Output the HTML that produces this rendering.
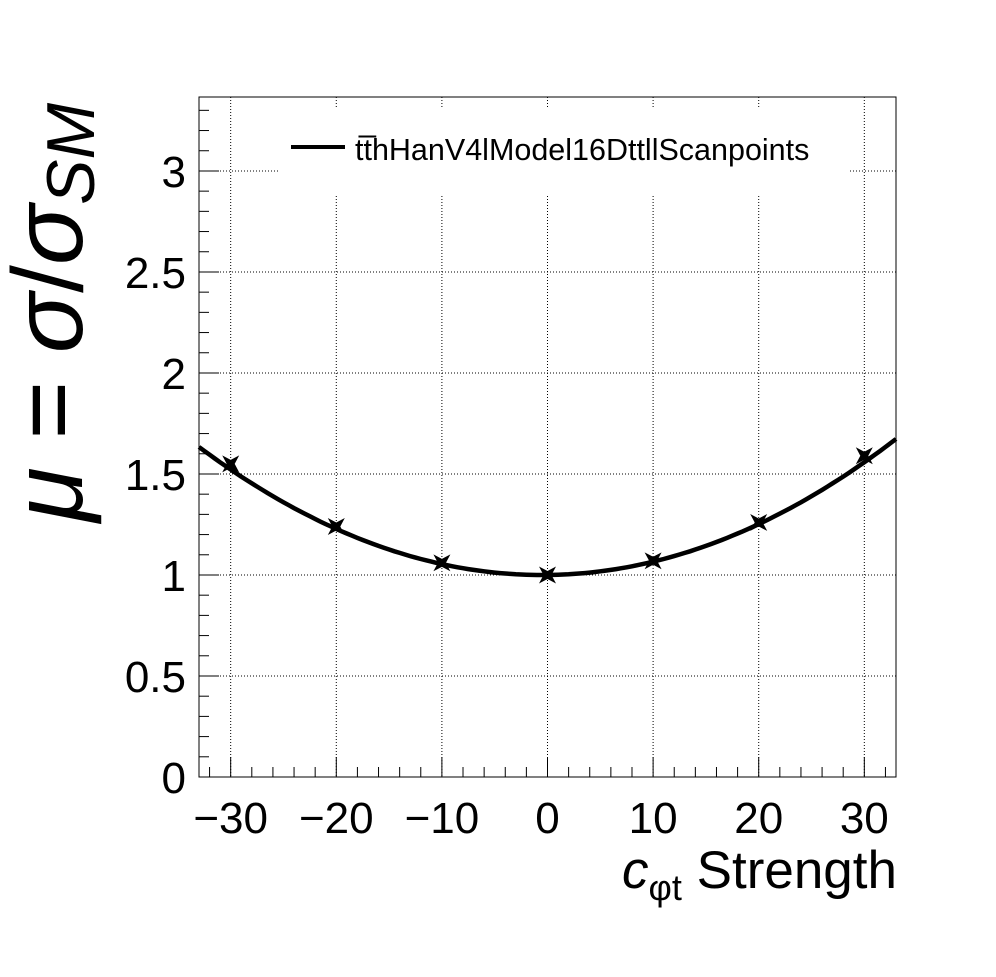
<!DOCTYPE html>
<html><head><meta charset="utf-8"><style>
body{margin:0;background:#fff}
svg text{font-family:"Liberation Sans",sans-serif}
</style></head><body>
<svg id="c" width="996" height="972" xmlns="http://www.w3.org/2000/svg"></svg>
<script>
const xTicks=[-30,-20,-10,0,10,20,30];
const xTickLabels=["\u221230","\u221220","\u221210","0","10","20","30"];
const yTicks=[0,0.5,1,1.5,2,2.5,3];
const yTickLabels=["0","0.5","1","1.5","2","2.5","3"];
const scanX=[-30,-20,-10,0,10,20,30];
const scanY=[1.55,1.24,1.06,1.0,1.07,1.26,1.59];
const fitCoef=[1.0,0.0006,0.00060];
const xMin=-33,xMax=33,yMin=0,yMax=3.366;
const L=199,R=896,T=97,B=777;
const sx=v=>L+(v-xMin)/(xMax-xMin)*(R-L);
const sy=v=>B-(v-yMin)/(yMax-yMin)*(B-T);
const svg=document.getElementById('c');const NS="http://www.w3.org/2000/svg";
function mk(t,a,p){const e=document.createElementNS(NS,t);for(const k in a)e.setAttribute(k,a[k]);(p||svg).appendChild(e);return e;}
xTicks.forEach(v=>{const e=mk('line',{x1:sx(v),x2:sx(v),y1:T,y2:B,stroke:'#000','stroke-dasharray':'1,2','stroke-width':1});

});
yTicks.forEach(v=>{const e=mk('line',{x1:L,x2:R,y1:sy(v),y2:sy(v),stroke:'#000','stroke-dasharray':'1,2','stroke-width':1});

});
const lg=mk('g',{});


mk('rect',{x:279,y:108,width:570,height:87,fill:'#fff'},lg);
mk('line',{x1:291,x2:345,y1:147,y2:147,stroke:'#000','stroke-width':4},lg);
const lt=mk('text',{x:355,y:160,'font-size':30.5},lg);lt.textContent="tt\u0305hHanV4lModel16DttllScanpoints";


const fr=mk('rect',{x:L,y:T,width:R-L,height:B-T,fill:'none',stroke:'#000','stroke-width':1});


for(let v=-32;v<=32;v+=2){const maj=v%10===0;const e=mk('line',{x1:sx(v),x2:sx(v),y1:B,y2:B-(maj?20:10),stroke:'#000'});

}
for(let i=0;i<=33;i++){const v=i/10;const maj=i%5===0;const e=mk('line',{x1:L,x2:L+(maj?20:10),y1:sy(v),y2:sy(v),stroke:'#000'});

}
xTicks.forEach((v,i)=>{const t=mk('text',{x:sx(v),y:833,'font-size':44,'text-anchor':'middle'});t.textContent=xTickLabels[i];

});
yTicks.forEach((v,i)=>{const t=mk('text',{x:186,y:sy(v)+16,'font-size':44,'text-anchor':'end'});t.textContent=yTickLabels[i];

});
let d='';for(let k=0;k<=132;k++){const x=xMin+k*(xMax-xMin)/132;const y=fitCoef[0]+fitCoef[1]*x+fitCoef[2]*x*x;d+=(k?'L':'M')+sx(x).toFixed(1)+','+sy(y).toFixed(1);}
const cv=mk('path',{d:d,fill:'none',stroke:'#000','stroke-width':4.5});


scanX.forEach((x,i)=>{const cx=sx(x),cy=sy(scanY[i]);let p='';for(let k=0;k<8;k++){const r=k%2?4:12;const a=k*Math.PI/4+Math.PI/4;p+=(cx+r*Math.cos(a)).toFixed(1)+','+(cy+r*Math.sin(a)).toFixed(1)+' ';}
const m=mk('polygon',{points:p,fill:'#000'});

});
const xt=mk('text',{x:897,y:888,'font-size':53,'text-anchor':'end'});
xt.innerHTML='<tspan font-style="italic">c</tspan><tspan font-size="36" dy="12">\u03c6t</tspan><tspan dy="-12"> Strength</tspan>';


const yt=mk('text',{transform:'translate(82,522) rotate(-90)','font-size':100});
yt.innerHTML='<tspan font-style="italic">\u03bc</tspan> = <tspan font-style="italic">\u03c3</tspan>/<tspan font-style="italic">\u03c3</tspan><tspan font-style="italic" font-size="68" dy="12">SM</tspan>';


</script>
</body></html>
